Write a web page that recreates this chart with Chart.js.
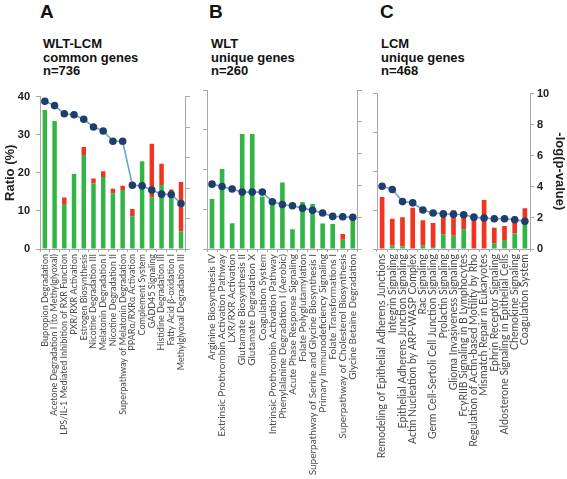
<!DOCTYPE html>
<html>
<head>
<meta charset="utf-8">
<script src="https://cdn.jsdelivr.net/npm/chart.js@4.4.1/dist/chart.umd.min.js"></script>
<style>
  body { margin: 0; background: #fff; width: 567px; height: 479px; overflow: hidden; position: relative; font-family: "Liberation Sans", Arial, sans-serif; }
  canvas { position: absolute; top: 84px; }
  .letter { position: absolute; top: 1px; font-size: 19px; font-weight: bold; color: #111; }
  .title { position: absolute; top: 37px; font-size: 13px; font-weight: bold; line-height: 13.6px; color: #111; }
</style>
</head>
<body>
<div class="letter" style="left:40px">A</div>
<div class="title" style="left:43px">WLT-LCM<br>common genes<br>n=736</div>
<div class="letter" style="left:209px">B</div>
<div class="title" style="left:211px">WLT<br>unique genes<br>n=260</div>
<div class="letter" style="left:380px">C</div>
<div class="title" style="left:381px">LCM<br>unique genes<br>n=468</div>

<canvas id="chartA" width="194" height="395" style="left:0px"></canvas>
<canvas id="chartB" width="168" height="395" style="left:199px"></canvas>
<canvas id="chartC" width="198" height="395" style="left:369px"></canvas>

<script>
// panel A - WLT-LCM common genes
const labelsA = [
  "Bupropion Degradation",
  "Acetone Degradation I (to Methylglyoxal)",
  "LPS/IL-1 Mediated Inhibition of RXR Function",
  "PXR/RXR Activation",
  "Estrogen Biosynthesis",
  "Nicotine Degradation III",
  "Melatonin Degradation I",
  "Nicotine Degradation II",
  "Superpathway of Melatonin Degradation",
  "PPARα/RXRα Activation",
  "Complement System",
  "GADD45 Signaling",
  "Histidine Degradation III",
  "Fatty Acid β-oxidation I",
  "Methylglyoxal Degradation III",
];
const greenA = [36.5, 33.6, 11.8, 19.7, 24.7, 17.2, 18.9, 14.6, 15.5, 8.6, 23.0, 13.6, 16.8, 14.6, 4.6];
const redA = [0, 0, 1.7, 0, 2.1, 1.3, 1.5, 1.2, 1.1, 1.9, 0, 14.0, 5.6, 1.0, 13.0];
const pvalA = [9.69, 9.41, 8.87, 8.81, 8.51, 8.01, 7.74, 7.07, 7.07, 4.18, 4.14, 3.87, 3.6, 3.58, 2.99];

// panel B - WLT unique genes
const labelsB = [
  "Arginine Biosynthesis IV",
  "Extrinsic Prothrombin Activation Pathway",
  "LXR/RXR Activation",
  "Glutamate Biosynthesis II",
  "Glutamate Degradation X",
  "Coagulation System",
  "Intrinsic Prothrombin Activation Pathway",
  "Phenylalanine Degradation I (Aerobic)",
  "Acute Phase Response Signaling",
  "Folate Polyglutamylation",
  "Superpathway of Serine and Glycine Biosynthesis I",
  "Primary Immunodeficiency Signaling",
  "Folate Transformations I",
  "Superpathway of Cholesterol Biosynthesis",
  "Glycine Betaine Degradation",
];
const greenB = [12.6, 20.1, 6.5, 28.9, 28.9, 13.2, 11.5, 16.7, 5.0, 11.8, 11.3, 6.4, 6.3, 2.3, 8.8];
const redB = [0, 0, 0, 0, 0, 0, 0, 0, 0, 0, 0, 0, 0, 1.5, 0];
const pvalB = [4.08, 3.93, 3.77, 3.58, 3.58, 3.58, 2.97, 2.8, 2.72, 2.57, 2.43, 2.26, 2.05, 2.03, 1.99];

// panel C - LCM unique genes
const labelsC = [
  "Remodeling of Epithelial Adherens Junctions",
  "Integrin Signaling",
  "Epithelial Adherens Junction Signaling",
  "Actin Nucleation by ARP-WASP Complex",
  "Rac Signaling",
  "Germ Cell-Sertoli Cell Junction Signaling",
  "Prolactin Signaling",
  "Glioma Invasiveness Signaling",
  "FcγRIIB Signaling in B Lymphocytes",
  "Regulation of Actin-based Motility by Rho",
  "Mismatch Repair in Eukaryotes",
  "Ephrin Receptor Signaling",
  "Aldosterone Signaling in Epithelial Cells",
  "Chemokine Signaling",
  "Coagulation System",
];
const greenC = [0, 0.9, 0.7, 0, 0.9, 0.5, 3.8, 3.4, 5.1, 0, 0, 1.5, 2.3, 4.0, 8.0];
const redC = [13.4, 6.9, 7.5, 10.6, 6.5, 6.2, 5.2, 6.6, 3.8, 7.6, 12.6, 4.0, 3.6, 4.3, 2.5];
const pvalC = [4.04, 3.83, 3.05, 2.97, 2.51, 2.32, 2.26, 2.24, 2.2, 2.05, 1.99, 1.95, 1.95, 1.88, 1.78];

const axisGray = "#a8a8a8";
const tickFont = { family: "Liberation Sans", size: 11, weight: "bold" };

function makePanel(id, labels, green, red, pval, leftW, rightW, showLeft, showRight, labelSize) {
  return new Chart(document.getElementById(id), {
    type: "bar",
    data: {
      labels: labels,
      datasets: [
        {
          type: "line",
          data: pval,
          yAxisID: "y1",
          borderColor: "#6aa3d6",
          borderWidth: 1.6,
          pointRadius: 3,
          pointBackgroundColor: "#1e3f6c",
          pointBorderColor: "#1e3f6c",
          order: 0,
        },
        { data: green, backgroundColor: "#33b446", yAxisID: "y", order: 1, barPercentage: 0.46, categoryPercentage: 1 },
        { data: red, backgroundColor: "#f2331f", yAxisID: "y", order: 1, barPercentage: 0.46, categoryPercentage: 1 },
      ],
    },
    options: {
      responsive: false,
      animation: false,
      layout: { padding: { top: 6, left: 0, right: 0, bottom: 0 } },
      plugins: { legend: { display: false }, tooltip: { enabled: false } },
      scales: {
        x: {
          stacked: true,
          grid: { drawOnChartArea: false, offset: true, tickLength: 3, color: axisGray },
          border: { color: axisGray },
          ticks: {
            minRotation: 90,
            maxRotation: 90,
            autoSkip: false,
            padding: 2,
            color: "#4a4a4a",
            font: { family: "Lato", size: labelSize },
          },
          afterFit: (s) => { s.height = 230; },
        },
        y: {
          position: "left",
          stacked: true,
          min: 0,
          max: 40,
          grid: { drawOnChartArea: false, tickLength: 4, color: axisGray },
          border: { color: axisGray },
          ticks: { stepSize: 10, display: showLeft, color: "#222", font: tickFont, padding: 6 },
          title: { display: showLeft, text: "Ratio (%)", color: "#222", font: { family: "Liberation Sans", size: 13, weight: "bold" }, padding: { top: 3, bottom: 2 } },
          afterFit: (s) => { s.width = leftW; },
        },
        y1: {
          position: "right",
          min: 0,
          max: 10,
          grid: { drawOnChartArea: false, tickLength: 4, color: axisGray },
          border: { color: axisGray },
          ticks: { stepSize: 2, display: showRight, color: "#222", font: tickFont, padding: 3 },
          title: { display: showRight, text: "-log(p-value)", color: "#222", font: { family: "Liberation Sans", size: 13, weight: "bold" }, padding: 0 },
          afterFit: (s) => { s.width = rightW; },
        },
      },
    },
  });
}

makePanel("chartA", labelsA, greenA, redA, pvalA, 40, 6, true, false, 9);
makePanel("chartB", labelsB, greenB, redB, pvalB, 8, 6, false, false, 10);
makePanel("chartC", labelsC, greenC, redC, pvalC, 8, 37, false, true, 10.5);
</script>
</body>
</html>
